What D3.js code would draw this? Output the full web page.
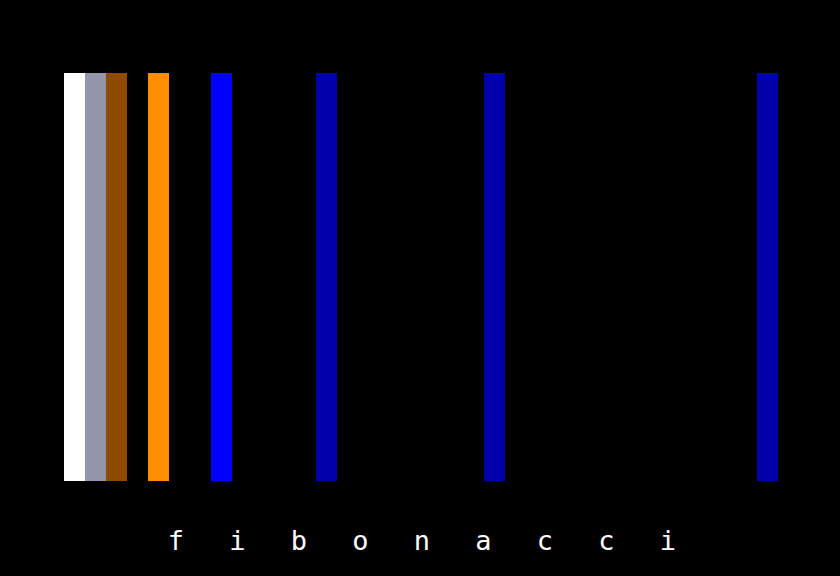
<!DOCTYPE html>
<html>
<head>
<meta charset="utf-8">
<script src="https://cdn.jsdelivr.net/npm/d3@7/dist/d3.min.js"></script>
<style>
  html, body { margin: 0; padding: 0; background: #000; }
</style>
</head>
<body>
<div id="chart"></div>
<script>
// bar start positions (in units of one bar width)
const starts = [0, 1, 2, 4, 7, 12, 20, 33];
const colors = ["#ffffff", "#9496ac", "#8f4a00", "#ff8f00", "#0000ff", "#0000aa", "#0000aa", "#0000aa"];
const letters = ["f", "i", "b", "o", "n", "a", "c", "c", "i"];
const totalUnits = 34;

const width = 840;
const height = 576;

const svg = d3.select("#chart").append("svg")
    .attr("width", width)
    .attr("height", height);

svg.append("rect")
    .attr("width", width)
    .attr("height", height)
    .attr("fill", "#000");

const x = d3.scaleLinear()
    .domain([0, totalUnits])
    .range([64, 778]);

const y = d3.scaleLinear()
    .domain([0, 1])
    .range([481, 73]);

const barWidth = x(1) - x(0);

svg.selectAll("rect.bar")
    .data(starts)
    .join("rect")
    .classed("bar", true)
    .attr("x", d => x(d))
    .attr("y", y(1))
    .attr("width", barWidth)
    .attr("height", y(0) - y(1))
    .attr("fill", (d, i) => colors[i]);

const lx = d3.scalePoint()
    .domain(d3.range(letters.length))
    .range([176, 668]);

svg.selectAll("text.letter")
    .data(letters)
    .join("text")
    .classed("letter", true)
    .attr("x", (d, i) => lx(i))
    .attr("y", 550)
    .attr("text-anchor", "middle")
    .attr("fill", "#fff")
    .style("font-family", "'DejaVu Sans Mono', monospace")
    .style("font-size", "27px")
    .text(d => d);
</script>
</body>
</html>
